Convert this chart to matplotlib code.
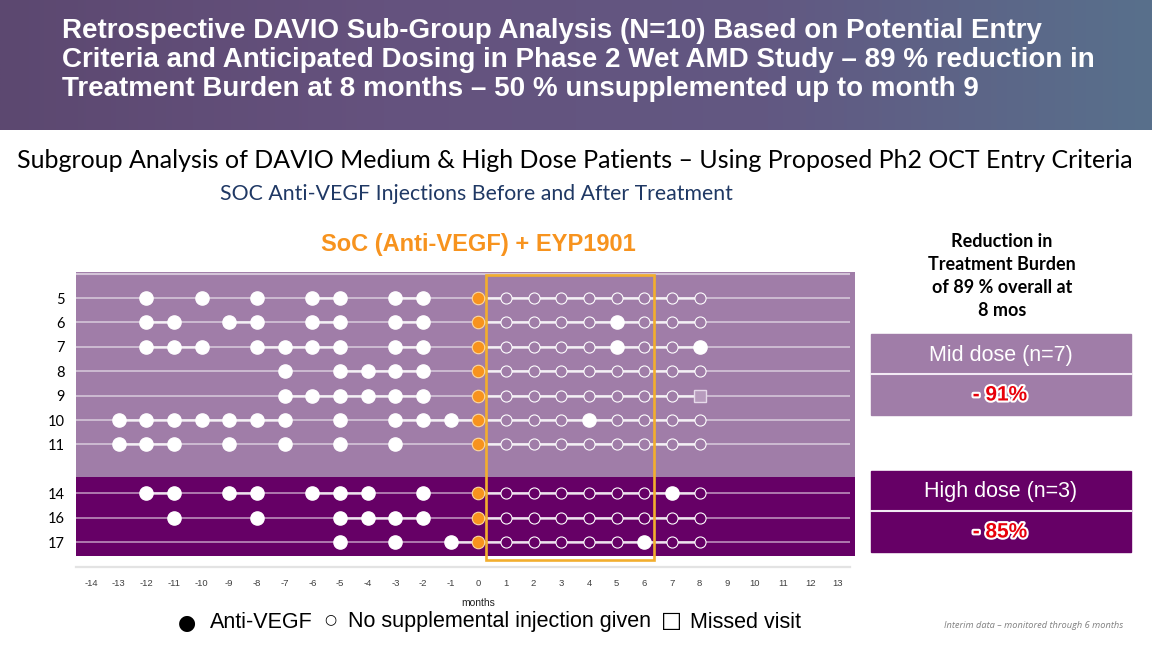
import matplotlib.pyplot as plt
import matplotlib.patheffects as pe
from matplotlib.patches import Rectangle
import numpy as np

W, H = 1152, 648

# Data
patients = [5, 6, 7, 8, 9, 10, 11, 14, 16, 17]
dose_group = ["mid"] * 7 + ["high"] * 3
pre_injections = [
    [-12, -10, -8, -6, -5, -3, -2],
    [-12, -11, -9, -8, -6, -5, -3, -2],
    [-12, -11, -10, -8, -7, -6, -5, -3, -2],
    [-7, -5, -4, -3, -2],
    [-7, -6, -5, -4, -3, -2],
    [-13, -12, -11, -10, -9, -8, -7, -5, -3, -2, -1],
    [-13, -12, -11, -9, -7, -5, -3],
    [-12, -11, -9, -8, -6, -5, -4, -2],
    [-11, -8, -5, -4, -3, -2],
    [-5, -3, -1],
]
treatment_month = 0
follow_up_months = [1, 2, 3, 4, 5, 6, 7, 8]
supplemental = [[], [5], [5, 8], [], [], [4], [], [7], [], [6]]
missed_visits = [[], [], [], [], [8], [], [], [], [], []]
month_ticks = list(range(-14, 14))
dose_labels = ["Mid dose (n=7)", "High dose (n=3)"]
dose_reductions = ["- 91%", "- 85%"]

LIGHT = "#A07DA8"
DARK = "#660066"
ORANGE = "#F7931E"
GOLD = "#F2AE2E"


def fx(px):
    return px / W


def fy(py):
    return 1 - py / H


fig = plt.figure(figsize=(W / 100, H / 100), dpi=100)

# Header banner with a soft gradient
bax = fig.add_axes([0, fy(130), 1, 130 / H])
stops = np.array([[92, 72, 112], [101, 82, 126], [98, 88, 130], [88, 112, 140]]) / 255
pos = np.linspace(0, 1, len(stops))
t = np.linspace(0, 1, 400)
grad = np.stack([np.interp(t, pos, stops[:, c]) for c in range(3)], axis=-1)
bax.imshow(grad[None, :, :], aspect="auto", extent=[0, 1, 0, 1])
bax.axis("off")

title = ("Retrospective DAVIO Sub-Group Analysis (N=10) Based on Potential Entry\n"
         "Criteria and Anticipated Dosing in Phase 2 Wet AMD Study \u2013 89 % reduction in\n"
         "Treatment Burden at 8 months \u2013 50 % unsupplemented up to month 9")
fig.text(fx(62), fy(60), title, color="white", fontsize=20, fontweight="bold",
         family="Liberation Sans", va="center", ha="left", linespacing=1.17)

fig.text(fx(575), fy(160),
         "Subgroup Analysis of DAVIO Medium & High Dose Patients \u2013 Using Proposed Ph2 OCT Entry Criteria",
         fontsize=18, family="Lato", ha="center", va="center", color="black")
fig.text(fx(476), fy(194), "SOC Anti-VEGF Injections Before and After Treatment",
         fontsize=15.3, family="Lato", ha="center", va="center", color="#1F3864")
fig.text(fx(478), fy(244), "SoC (Anti-VEGF) + EYP1901", fontsize=17, fontweight="bold",
         family="Liberation Sans", ha="center", va="center", color=ORANGE)

# Main swimmer plot
ax = fig.add_axes([fx(76), fy(567), fx(855) - fx(76), (567 - 272) / H])
xmin, xmax = (76 - 478.3) / 27.67, (855 - 478.3) / 27.67
ax.set_xlim(xmin, xmax)
ax.set_ylim(11.02, -1.066)

rows = []
gap = 0
for i, g in enumerate(dose_group):
    if i > 0 and g != dose_group[i - 1]:
        gap += 1
    rows.append(i + gap)

ax.axhspan(-1.066, 7.34, color=LIGHT, zorder=0, lw=0)
ax.axhspan(7.34, 10.57, color=DARK, zorder=0, lw=0)
ax.hlines(-1.0, xmin, 13.45, color="#D4C4D8", lw=1.5, zorder=1)

for r in rows:
    ax.hlines(r, xmin, 13.45, color="white", alpha=0.6, lw=1.1, zorder=1)

for i, r in enumerate(rows):
    events = sorted(pre_injections[i] + [treatment_month] + follow_up_months)
    for a, b in zip(events[:-1], events[1:]):
        if b - a == 1:
            ax.plot([a, b], [r, r], color="white", lw=1.8, alpha=0.8, zorder=2,
                    solid_capstyle="butt")
    ax.plot(pre_injections[i], [r] * len(pre_injections[i]), "o", ms=9.5,
            color="white", mec="white", zorder=4)
    ax.plot([treatment_month], [r], "o", ms=9, mfc=ORANGE, mec="#FCD9A0", mew=0.8, zorder=5)
    open_m = [m for m in follow_up_months if m not in supplemental[i] and m not in missed_visits[i]]
    ax.plot(open_m, [r] * len(open_m), "o", ms=8, mfc=LIGHT if dose_group[i] == "mid" else DARK,
            mec="white", mew=0.8, zorder=4)
    if supplemental[i]:
        ax.plot(supplemental[i], [r] * len(supplemental[i]), "o", ms=9.5,
                color="white", zorder=4)
    if missed_visits[i]:
        ax.plot(missed_visits[i], [r] * len(missed_visits[i]), "s", ms=8.5,
                mfc="#B79BBD", mec="#E6DAEA", mew=1.0, zorder=4)

ax.add_patch(Rectangle((0.28, -0.94), 6.35 - 0.28, 10.74 + 0.94, fill=False,
                       ec=GOLD, lw=1.9, zorder=6, clip_on=False))

ax.set_yticks(rows)
ax.set_yticklabels([str(p) for p in patients], fontsize=10.5, family="Lato")
ax.set_xticks(month_ticks)
ax.set_xticklabels([str(m) for m in month_ticks], fontsize=6.8, color="#404040",
                   family="Liberation Sans")
ax.tick_params(axis="both", length=0)
ax.tick_params(axis="y", pad=8)
ax.tick_params(axis="x", pad=9)
for s in ["left", "right", "top"]:
    ax.spines[s].set_visible(False)
ax.spines["bottom"].set_color("#E3E3E3")
ax.spines["bottom"].set_linewidth(1.6)
ax.spines["bottom"].set_bounds(xmin, 13.45)

fig.text(fx(478), fy(603), "months", fontsize=7.5, ha="center", va="center",
         color="#222222", family="Liberation Sans")

# Legend line
fig.text(fx(187), fy(623), "\u25cf", fontsize=15, ha="center", va="center",
         family=["DejaVu Sans"], color="black")
fig.text(fx(210), fy(622), "Anti-VEGF", fontsize=15.5, ha="left", va="center",
         family="Liberation Sans", color="black")
fig.text(fx(330), fy(619), "\u25cb", fontsize=10, ha="center", va="center",
         family=["DejaVu Sans"], color="black")
fig.text(fx(348), fy(622), "No supplemental injection given", fontsize=15.5, ha="left",
         va="center", family="Liberation Sans", color="black")
fig.text(fx(671), fy(621), "\u25a1", fontsize=16, ha="center", va="center",
         family=["DejaVu Sans"], color="black")
fig.text(fx(690), fy(622), "Missed visit", fontsize=15.5, ha="left", va="center",
         family="Liberation Sans", color="black")

# Right-hand summary panel
fig.text(fx(1002), fy(276), "Reduction in\nTreatment Burden\nof 89 % overall at\n8 mos",
         fontsize=13, fontweight="bold", family="Lato", ha="center", va="center",
         linespacing=1.44, color="black")

box_tops = [334, 471]
box_colors = [LIGHT, DARK]
for top, col, lab, red in zip(box_tops, box_colors, dose_labels, dose_reductions):
    fig.patches.append(Rectangle((fx(871), fy(top + 81)), fx(1131) - fx(871), 81 / H,
                                 transform=fig.transFigure, color=col, zorder=0))
    fig.add_artist(plt.Line2D([fx(871), fx(1131)], [fy(top + 40), fy(top + 40)],
                              transform=fig.transFigure, color="#F2EAF4", lw=1.5))
    fig.text(fx(1001), fy(top + 21), lab, fontsize=15.5, color="white", ha="center",
             va="center", family="Liberation Sans")
    fig.text(fx(1000), fy(top + 61), red, fontsize=15, fontweight="bold", color="#E8000B",
             ha="center", va="center", family="Liberation Sans",
             path_effects=[pe.withStroke(linewidth=3, foreground="white")])

fig.text(fx(1034), fy(625), "Interim data \u2013 monitored through 6 months", fontsize=6.7,
         style="italic", color="#808080", ha="center", va="center", family="Open Sans")

fig.savefig("out.png", dpi=100)
